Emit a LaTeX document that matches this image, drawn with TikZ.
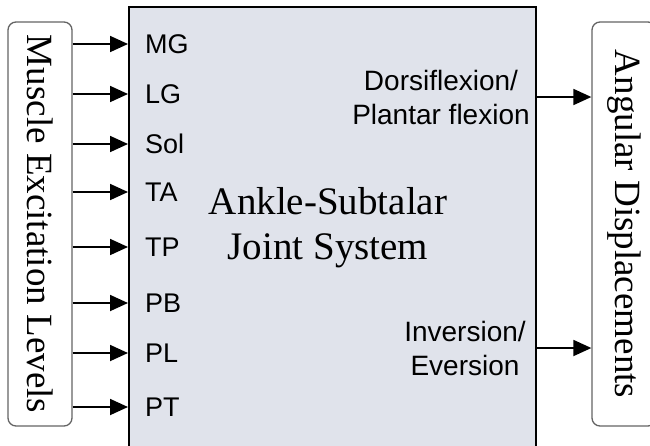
\documentclass[tikz,border=0pt]{standalone}
\usepackage{fontspec}
\setmainfont{Liberation Serif}
\setsansfont{Liberation Sans}
\usepackage{xcolor}
\usetikzlibrary{arrows.meta,positioning}

\definecolor{sysfill}{RGB}{224,227,235}
\definecolor{sideline}{RGB}{100,100,100}

\begin{document}
\begin{tikzpicture}[
  x=1pt, y=-1pt,
  sysbox/.style={draw=black, line width=2pt, fill=sysfill, minimum width=407pt, minimum height=453pt, inner sep=0pt},
  side/.style={rounded corners=8pt, draw=sideline, line width=1.3pt, rotate=-90, minimum width=404pt, minimum height=64pt, inner sep=0pt, font=\fontsize{37}{44}\selectfont},
  muscle/.style={anchor=west, inner sep=0pt, font=\sffamily\fontsize{27}{32}\selectfont},
  motion/.style={align=center, inner sep=0pt, font=\sffamily\fontsize{28}{34}\selectfont},
  title/.style={align=center, inner sep=0pt, font=\fontsize{39}{45}\selectfont},
  arrow/.style={-{Triangle[length=18pt, width=16pt]}, line width=1.8pt}
]
\useasboundingbox (0,0) rectangle (650,445);

\node[sysbox] (ankle) at (332.5,233.5) {};
\node[side] (levels) at (40,224) {Muscle Excitation Levels};
\node[side] (angles) at (624,224) {Angular Displacements};
\node[title] (system) at (328,228) {Ankle-Subtalar\\Joint System};

\node[muscle] (mg) at (145,44) {MG};
\node[muscle] (lg) at (145,94) {LG};
\node[muscle] (sol) at (145,144) {Sol};
\node[muscle] (ta) at (145,192) {TA};
\node[muscle] (tp) at (145,247) {TP};
\node[muscle] (pb) at (145,303) {PB};
\node[muscle] (pl) at (145,353) {PL};
\node[muscle] (pt) at (145,407) {PT};

\node[motion] (dorsi) at (441,97) {Dorsiflexion/\\Plantar flexion};
\node[motion] (inver) at (465,348) {Inversion/\\Eversion};

\draw[arrow] (levels.north |- mg) -- (ankle.west |- mg);
\draw[arrow] (levels.north |- lg) -- (ankle.west |- lg);
\draw[arrow] (levels.north |- sol) -- (ankle.west |- sol);
\draw[arrow] (levels.north |- ta) -- (ankle.west |- ta);
\draw[arrow] (levels.north |- tp) -- (ankle.west |- tp);
\draw[arrow] (levels.north |- pb) -- (ankle.west |- pb);
\draw[arrow] (levels.north |- pl) -- (ankle.west |- pl);
\draw[arrow] (levels.north |- pt) -- (ankle.west |- pt);
\draw[arrow] (ankle.east |- dorsi) -- (angles.south |- dorsi);
\draw[arrow] (ankle.east |- inver) -- (angles.south |- inver);
\end{tikzpicture}
\end{document}
